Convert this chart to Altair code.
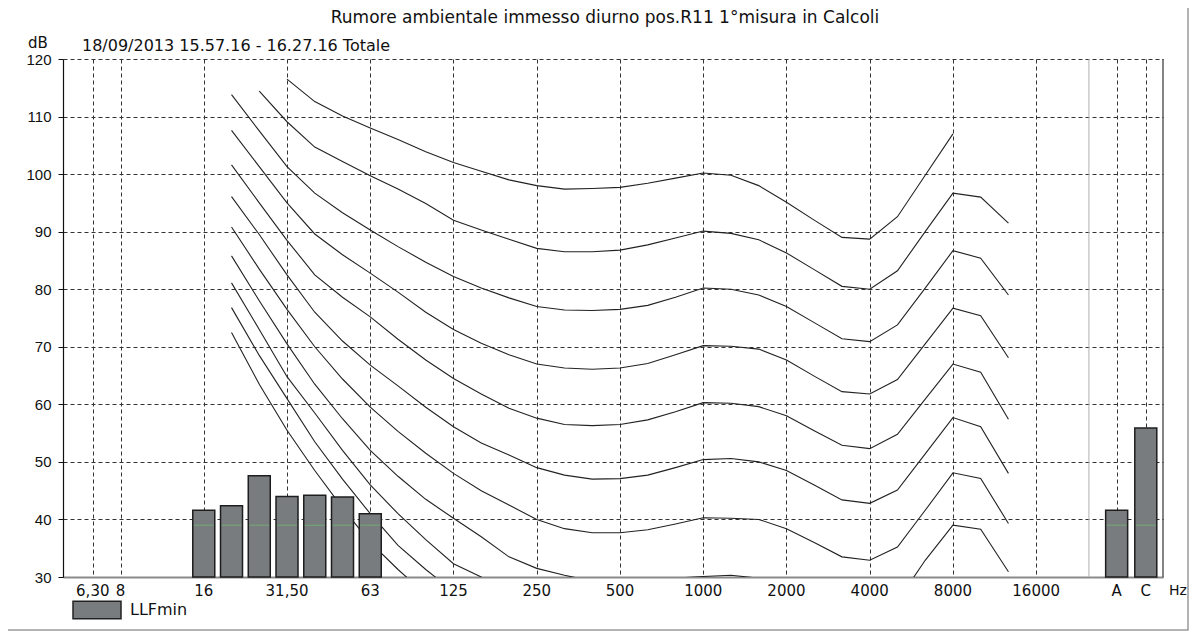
import altair as alt
import pandas as pd

# ---------------- data ----------------
title_text = "Rumore ambientale immesso diurno pos.R11 1°misura in Calcoli"
subtitle_text = "18/09/2013 15.57.16 - 16.27.16  Totale"

# third-octave band positions (6,3 Hz = 0, 8 Hz = 1, ..., 16000 Hz = 34)
tick_idx = [0, 1, 4, 7, 10, 13, 16, 19, 22, 25, 28, 31, 34, 36.9, 37.95]
tick_text = ["6,30", "8", "16", "31,50", "63", "125", "250", "500", "1000",
             "2000", "4000", "8000", "16000", "A", "C"]

# curve band indices: 20 Hz (5) ... 12500 Hz (33)
curve_bands = [20, 25, 31.5, 40, 50, 63, 80, 100, 125, 160, 200, 250, 315, 400,
               500, 630, 800, 1000, 1250, 1600, 2000, 2500, 3150, 4000, 5000,
               6300, 8000, 10000, 12500]
curve_idx = list(range(5, 34))

c100 = [None, None, 116.5, 112.6, 110.1, 108.0, 106.0, 103.9, 102.0, 100.5, 99.0, 98.0, 97.4, 97.5,
        97.7, 98.4, 99.3, 100.2, 99.8, 98.0, 95.1, 92.0, 89.0, 88.7, 92.6, 99.8, 107.0, None, None]
c90 = [None, 114.4, 109.1, 104.7, 102.2, 99.7, 97.4, 94.9, 92.0, 90.3, 88.7, 87.1, 86.5, 86.5,
       86.8, 87.7, 88.9, 90.1, 89.7, 88.6, 86.3, 83.4, 80.5, 80.0, 83.2, 90.0, 96.7, 96.0, 91.5]
c80 = [113.8, 107.5, 101.3, 96.7, 93.3, 90.3, 87.4, 84.7, 82.2, 80.2, 78.5, 77.0, 76.4, 76.3,
       76.5, 77.2, 78.6, 80.2, 80.0, 79.0, 77.0, 74.2, 71.4, 70.9, 73.8, 80.2, 86.7, 85.4, 79.0]
c70 = [107.6, 101.3, 95.0, 89.6, 86.0, 82.8, 79.5, 76.0, 73.0, 70.6, 68.6, 67.0, 66.3, 66.1,
       66.3, 67.1, 68.6, 70.2, 70.1, 69.6, 67.7, 64.9, 62.2, 61.8, 64.3, 70.5, 76.7, 75.4, 68.1]
c60 = [101.6, 95.0, 88.5, 82.5, 78.6, 75.2, 71.3, 67.7, 64.5, 61.8, 59.3, 57.6, 56.5, 56.3,
       56.5, 57.3, 58.7, 60.3, 60.2, 59.6, 58.0, 55.4, 52.9, 52.3, 54.8, 60.9, 67.0, 65.6, 57.4]
c50 = [96.1, 89.5, 82.5, 76.0, 71.0, 66.8, 63.2, 59.5, 56.1, 53.3, 51.2, 49.0, 47.7, 47.0,
       47.1, 47.7, 49.0, 50.4, 50.6, 50.0, 48.5, 46.0, 43.4, 42.8, 45.1, 51.4, 57.7, 56.1, 48.0]
c40 = [90.8, 83.5, 76.5, 70.0, 64.4, 59.5, 55.3, 51.5, 48.0, 45.0, 42.5, 40.0, 38.4, 37.7,
       37.7, 38.2, 39.2, 40.3, 40.2, 40.0, 38.4, 36.0, 33.5, 32.9, 35.2, 41.6, 48.1, 47.1, 39.3]
c30 = [85.8, 78.0, 70.5, 63.5, 57.5, 52.0, 47.5, 43.5, 40.2, 37.0, 33.5, 31.5, 30.3, 29.3,
       29.0, 29.3, 29.8, 30.1, 30.3, 29.8, 28.2, 26.0, 24.0, 23.2, 25.8, 32.9, 39.0, 38.3, 30.9]
c20 = [81.1, 73.0, 64.8, 58.5, 52.0, 46.0, 41.0, 36.5, 32.3, 30.0, 27.0, 24.0, 22.0, 20.5,
       20.0, 20.0, 20.0, 20.0, 20.3, 19.8, 18.5, 16.0, 14.0, 13.5, 16.0, 23.0, 29.0, 28.5, 22.0]
c10 = [76.8, 68.5, 61.0, 53.5, 47.0, 41.0, 35.5, 31.3, 27.5, 24.5, 21.5, 19.0, 16.5, 14.0,
       12.0, 11.0, 10.5, 10.0, 10.3, 9.8, 8.5, 6.0, 4.0, 3.5, 6.0, 13.0, 19.0, 18.5, 12.0]
c0 = [72.5, 63.5, 55.5, 48.5, 42.0, 36.0, 31.3, 27.0, 23.5, 20.0, 17.0, 14.0, 11.5, 9.0,
      7.0, 5.5, 4.5, 4.0, 4.0, 3.5, 2.0, 0.0, -2.0, -2.5, 0.0, 6.0, 12.0, 12.0, 6.0]

curves = {100: c100, 90: c90, 80: c80, 70: c70, 60: c60, 50: c50,
          40: c40, 30: c30, 20: c20, 10: c10, 0: c0}

bar_labels = ["16", "20", "25", "31,5", "40", "50", "63", "A", "C"]
bar_idx = [4, 5, 6, 7, 8, 9, 10, 36.9, 37.95]
bar_values = [41.6, 42.4, 47.6, 44.0, 44.2, 43.9, 41.0, 41.6, 55.9]
marker_value = 39.0

y_ticks = list(range(30, 121, 10))

# ---------------- tables ----------------
rows = []
for ph, vals in curves.items():
    for i, v in zip(curve_idx, vals):
        if v is not None:
            rows.append({"phon": ph, "i": i, "db": v})
curve_df = pd.DataFrame(rows)
bar_df = pd.DataFrame({"band": bar_labels, "i": bar_idx, "db": bar_values,
                       "serie": ["LLFmin"] * len(bar_labels),
                       "mk": [marker_value] * len(bar_labels)})
tick_df = pd.DataFrame({"i": tick_idx, "t": tick_text})

W, H = 1100, 518
xs = alt.Scale(domain=[-0.893, 38.39], nice=False, zero=False)
ys = alt.Scale(domain=[30, 120], nice=False, zero=False)

x_axis = alt.Axis(values=tick_idx, grid=True, gridDash=[4, 3], gridColor="#333",
                  gridWidth=1, labels=False, ticks=False, domainColor="#8a8a8a",
                  domainWidth=2, title=None)
y_axis = alt.Axis(values=y_ticks, grid=True, gridDash=[4, 3], gridColor="#333",
                  gridWidth=1, labelFont="Liberation Sans", labelFontSize=15,
                  labelColor="#111", tickColor="#111", tickSize=5, labelPadding=7,
                  domainColor="#111", domainWidth=1.2, title=None)

base_curve = alt.Chart(curve_df).mark_line(color="#222", strokeWidth=1.1, clip=True).encode(
    x=alt.X("i:Q", scale=xs, axis=x_axis),
    y=alt.Y("db:Q", scale=ys, axis=y_axis),
    detail="phon:N",
    order="i:Q",
)

sep_rule = alt.Chart(pd.DataFrame({"i": [35.9]})).mark_rule(color="#b0b0b0", strokeWidth=1).encode(
    x=alt.X("i:Q", scale=xs), y=alt.value(0), y2=alt.value(H))

right_rule = alt.Chart(pd.DataFrame({"i": [0]})).mark_rule(color="#333", strokeWidth=1.2).encode(
    x=alt.value(W), y=alt.value(0), y2=alt.value(H))

bars = alt.Chart(bar_df).mark_bar(size=22, stroke="#1e1e1e", strokeWidth=1.5).encode(
    x=alt.X("i:Q", scale=xs),
    y=alt.Y("db:Q", scale=ys),
    y2=alt.datum(30),
    color=alt.Color("serie:N", scale=alt.Scale(range=["#787c7f"]),
                    legend=alt.Legend(orient="none", legendX=9, legendY=526, title=None,
                                      symbolType="M-1,-0.36H1V0.36H-1Z", symbolSize=2304,
                                      symbolStrokeColor="#222", symbolStrokeWidth=1.5,
                                      symbolOpacity=1, labelFont="DejaVu Sans",
                                      labelFontSize=16, labelColor="#111", padding=0,
                                      labelOffset=8)),
)

marks = alt.Chart(bar_df).mark_tick(color="#6fbf6f", thickness=1, size=20, orient="horizontal").encode(
    x=alt.X("i:Q", scale=xs), y=alt.Y("mk:Q", scale=ys))

xlabels = alt.Chart(tick_df).mark_text(font="DejaVu Sans", fontSize=15, color="#111",
                                       baseline="middle", align="center").encode(
    x=alt.X("i:Q", scale=xs), y=alt.value(H + 14), text="t:N")


def txt(s, x, y, size, align="left", font="DejaVu Sans"):
    return alt.Chart(pd.DataFrame({"t": [s]})).mark_text(
        font=font, fontSize=size, color="#111", align=align, baseline="middle").encode(
        x=alt.value(x), y=alt.value(y), text="t:N")


title = txt(title_text, 542, -41, 17, align="center")
subtitle = txt(subtitle_text, 19, -13, 16)
db_lbl = txt("dB", -35, -16, 15)
hz_lbl = txt("Hz", 1115, H + 14, 14, align="center")

frame = alt.Chart(pd.DataFrame({"a": [0]})).mark_rect(fill=None, stroke="#9a9a9a", strokeWidth=1.5).encode(
    x=alt.value(-56), x2=alt.value(1125), y=alt.value(-54), y2=alt.value(571))

chart = alt.layer(
    frame, sep_rule, base_curve, right_rule, bars, marks, xlabels,
    title, subtitle, db_lbl, hz_lbl
).properties(
    width=W, height=H,
    padding={"left": 55, "top": 51, "right": 26, "bottom": 55},
    autosize=alt.AutoSizeParams(type="none"),
    background="white",
).configure_view(stroke=None)

chart.save("out.html", embed_options={"renderer": "svg", "actions": False})
